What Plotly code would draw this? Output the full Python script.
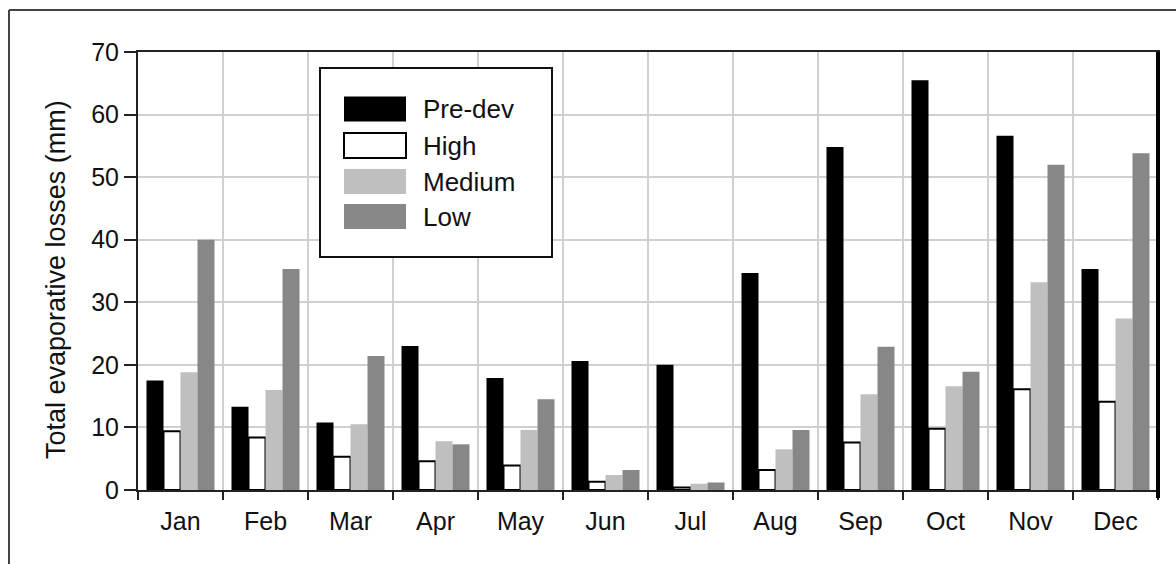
import plotly.graph_objects as go

# Monthly evaporative losses (mm) by development scenario
months = ["Jan", "Feb", "Mar", "Apr", "May", "Jun",
          "Jul", "Aug", "Sep", "Oct", "Nov", "Dec"]
pre_dev = [17.5, 13.3, 10.8, 23.0, 17.9, 20.6, 20.0, 34.7, 54.8, 65.5, 56.6, 35.3]
high    = [9.4, 8.4, 5.3, 4.6, 3.9, 1.3, 0.4, 3.2, 7.6, 9.8, 16.1, 14.1]
medium  = [18.8, 16.0, 10.5, 7.8, 9.6, 2.4, 1.0, 6.5, 15.3, 16.6, 33.2, 27.4]
low     = [40.0, 35.3, 21.4, 7.3, 14.5, 3.2, 1.2, 9.6, 22.9, 18.9, 52.0, 53.8]

series_names = ["Pre-dev", "High", "Medium", "Low"]
series_values = [pre_dev, high, medium, low]

FONT = "Liberation Sans, Arial, sans-serif"
W, H = 1176, 564
L, R, T, B = 138, 18, 52, 74
PW, PH = W - L - R, H - T - B

fills = ["#000000", "#ffffff", "#bfbfbf", "#878787"]
outlines = ["#000000", "#000000", "#bfbfbf", "#878787"]
outline_w = [0, 2, 0, 0]


def px(x):
    return (x - L) / PW


def py(y):
    return (H - B - y) / PH


fig = go.Figure()
for name, vals, fc, lc, lw in zip(series_names, series_values, fills, outlines, outline_w):
    fig.add_trace(go.Bar(
        x=months, y=vals, name=name,
        marker=dict(color=fc, line=dict(color=lc, width=lw)),
        showlegend=False,
    ))

shapes = []
annotations = []

# outer frame (left and top edges)
shapes.append(dict(type="line", xref="paper", yref="paper",
                   x0=px(9), x1=px(9), y0=py(10), y1=py(H + 10),
                   line=dict(color="#444444", width=2)))
shapes.append(dict(type="line", xref="paper", yref="paper",
                   x0=px(9), x1=px(W + 10), y0=py(10), y1=py(10),
                   line=dict(color="#444444", width=2)))

# heavier right edge of the plot box
shapes.append(dict(type="line", xref="paper", yref="paper",
                   x0=1, x1=1, y0=py(H - B + 8), y1=1,
                   line=dict(color="#000000", width=4), layer="above"))

# legend box
shapes.append(dict(type="rect", xref="paper", yref="paper",
                   x0=px(320), x1=px(552), y0=py(257), y1=py(68),
                   fillcolor="#ffffff", line=dict(color="#111111", width=2),
                   layer="above"))
centers = [109, 145.5, 181.5, 216.5]
for name, cy, fc, lw in zip(series_names, centers, fills, outline_w):
    shapes.append(dict(type="rect", xref="paper", yref="paper",
                       x0=px(344), x1=px(406), y0=py(cy + 12.5), y1=py(cy - 12.5),
                       fillcolor=fc,
                       line=dict(color="#000000", width=lw if lw else 0),
                       layer="above"))
    annotations.append(dict(xref="paper", yref="paper", x=px(421), y=py(cy),
                            text=name, showarrow=False, xanchor="left",
                            yanchor="middle",
                            font=dict(family=FONT, size=26, color="#111111")))

# y-axis title
annotations.append(dict(xref="paper", yref="paper", x=px(56), y=py(280),
                        text="Total evaporative losses (mm)", showarrow=False,
                        textangle=-90, xanchor="center", yanchor="middle",
                        font=dict(family=FONT, size=27, color="#111111")))

fig.update_layout(
    width=W, height=H,
    margin=dict(l=L, r=R, t=T, b=B, pad=0),
    paper_bgcolor="#ffffff", plot_bgcolor="#ffffff",
    barmode="group", bargap=0.2, bargroupgap=0,
    shapes=shapes, annotations=annotations,
    font=dict(family=FONT, size=25, color="#111111"),
)
fig.update_xaxes(
    type="category", tickson="boundaries", ticks="outside", ticklen=8,
    tickwidth=2, tickcolor="#222222", ticklabelstandoff=8,
    showgrid=True, gridcolor="#d0d0d0", gridwidth=2,
    showline=True, linecolor="#222222", linewidth=2, mirror=True,
    tickfont=dict(family=FONT, size=25, color="#111111"),
)
fig.update_yaxes(
    range=[0, 70], dtick=10, ticks="outside", ticklen=12,
    tickwidth=2, tickcolor="#222222",
    showgrid=True, gridcolor="#d0d0d0", gridwidth=2, zeroline=False,
    showline=True, linecolor="#222222", linewidth=2, mirror=True,
    tickfont=dict(family=FONT, size=25, color="#111111"),
)

fig.write_html("out.html")
